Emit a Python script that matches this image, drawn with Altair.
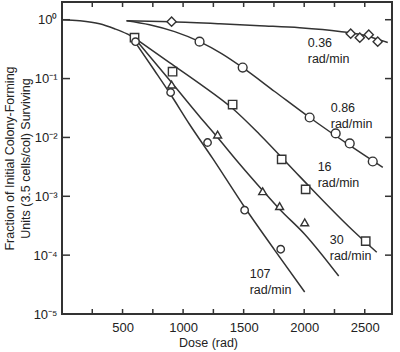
import altair as alt
import pandas as pd

# ---- measured points (dose in rad, surviving fraction) ----
d036 = [905, 2384, 2459, 2533, 2607]
s036 = [0.925, 0.579, 0.495, 0.557, 0.424]

d086 = [1136, 1492, 2045, 2260, 2376, 2566]
s086 = [0.424, 0.154, 0.0218, 0.0117, 0.0079, 0.0039]

d16 = [599, 913, 1409, 1814, 2012, 2508]
s16 = [0.495, 0.131, 0.0362, 0.00424, 0.00131, 0.000173]

d30 = [905, 1285, 1657, 1797, 2004]
s30 = [0.079, 0.0112, 0.00122, 0.00068, 0.00036]

d107 = [607, 897, 1202, 1508, 1806]
s107 = [0.424, 0.058, 0.0082, 0.00058, 0.000126]

# ---- fitted curves ----
cd_sh = [0, 145, 310, 434, 533, 607]
cs_sh = [1.0, 0.962, 0.855, 0.703, 0.579, 0.476]

cd036 = [533, 905, 1302, 1632, 1962, 2293, 2500, 2690]
cs036 = [0.962, 0.925, 0.855, 0.79, 0.73, 0.63, 0.54, 0.41]

cd086 = [533, 723, 930, 1136, 1318, 1492, 1756, 2045, 2376, 2649]
cs086 = [0.962, 0.822, 0.627, 0.424, 0.265, 0.153, 0.0603, 0.0218, 0.00731, 0.0031]

cd16 = [607, 888, 1136, 1409, 1632, 1962, 2400, 2599]
cs16 = [0.476, 0.187, 0.0822, 0.0310, 0.01125, 0.00218, 0.000265, 0.000112]

cd30 = [616, 905, 1136, 1285, 1442, 1657, 1797, 2004, 2285]
cs30 = [0.441, 0.0855, 0.0227, 0.0100, 0.00407, 0.00126, 0.000603, 0.000227, 0.0000441]

cd107 = [607, 764, 897, 1054, 1244, 1508, 1756, 2004]
cs107 = [0.407, 0.137, 0.0536, 0.0166, 0.0044, 0.000652, 0.000122, 0.0000236]

# ---- curve labels (anchored at first line) ----
lab_text = ["0.36\nrad/min", "0.86\nrad/min", "16\nrad/min", "30\nrad/min", "107\nrad/min"]
lab_dose = [2029, 2219, 2111, 2211, 1550]
lab_surv = [0.408, 0.0322, 0.0031, 0.00018, 0.0000476]

# ---- axis ticks ----
x_tick_vals = [250, 500, 750, 1000, 1250, 1500, 1750, 2000, 2250, 2500]
x_label_vals = [500, 1000, 1500, 2000, 2500]
y_tick_vals = [1, 0.1, 0.01, 0.001, 0.0001]
y_label_vals = [1, 0.1, 0.01, 0.001, 0.0001, 0.00001]

series = ["0.36", "0.86", "16", "30", "107"]
shapes = ["diamond", "circle", "square", "triangle-up", "circle"]

pts = []
for name, ds, ss in zip(series, [d036, d086, d16, d30, d107], [s036, s086, s16, s30, s107]):
    for d, s in zip(ds, ss):
        pts.append({"series": name, "dose": d, "surv": s})
pts = pd.DataFrame(pts)

curves = []
for name, ds, ss in zip(["shoulder"] + series, [cd_sh, cd036, cd086, cd16, cd30, cd107],
                        [cs_sh, cs036, cs086, cs16, cs30, cs107]):
    for i, (d, s) in enumerate(zip(ds, ss)):
        curves.append({"curve": name, "dose": d, "surv": s, "i": i})
curves = pd.DataFrame(curves)

labels = pd.DataFrame({"text": lab_text, "dose": lab_dose, "surv": lab_surv})
xt = pd.DataFrame({"dose": x_tick_vals})
yt = pd.DataFrame({"surv": y_tick_vals})

W, H = 330, 312
FONT = "Liberation Sans"
INK = "#333333"
YTITLE = ["Fraction of Initial Colony-Forming", "Units (3.5 cells/col) Surviving"]

xscale = alt.Scale(domain=[0, 2725], nice=False, zero=False)
yscale = alt.Scale(type="log", domain=[0.00001, 2], nice=False)

sup = "['\u2070','\u207b\u00b9','\u207b\u00b2','\u207b\u00b3','\u207b\u2074','\u207b\u2075']"

xaxis = alt.Axis(values=x_label_vals, format="d", tickSize=0, domain=False, grid=False,
                 labelFont=FONT, labelFontSize=13, labelColor="#222", labelPadding=7,
                 title="Dose (rad)", titleFont=FONT, titleFontSize=12.5, titleFontWeight="normal",
                 titleColor="#222", titleX=146, titleY=28, titleBaseline="middle")
yaxis = alt.Axis(values=y_label_vals, tickSize=0, domain=False, grid=False,
                 labelExpr="'10' + " + sup + "[round(-log(datum.value)/LN10)]",
                 labelFont=FONT, labelFontSize=13, labelColor="#222", labelPadding=5,
                 title=YTITLE,
                 titleFont=FONT, titleFontSize=12.5, titleFontWeight="normal", titleColor="#222",
                 titleLineHeight=16, titleX=-46, titleY=156, titleBaseline="bottom", titleAngle=-90)

X = alt.X("dose:Q", scale=xscale, axis=xaxis, title="Dose (rad)")
Y = alt.Y("surv:Q", scale=yscale, axis=yaxis, title=YTITLE)

lines = alt.Chart(curves).mark_line(color=INK, strokeWidth=1.5, interpolate="monotone").encode(
    x=X, y=Y, detail="curve:N", order="i:Q",
)

points = alt.Chart(pts).mark_point(filled=True, fill="white", stroke=INK, strokeWidth=1.4,
                                   opacity=1, strokeOpacity=1).encode(
    x=X, y=Y,
    shape=alt.Shape("series:N", scale=alt.Scale(domain=series, range=shapes), legend=None),
    size=alt.Size("series:N", scale=alt.Scale(domain=series, range=[85, 55, 60, 85, 55]), legend=None),
)

text = alt.Chart(labels).mark_text(align="left", baseline="middle", lineBreak="\n", lineHeight=16,
                                   font=FONT, fontSize=12.5, color="#222").encode(
    x=X, y=Y, text="text:N",
)

tick_bottom = alt.Chart(xt).mark_rule(color=INK, strokeWidth=1.5).encode(
    x=X, y=alt.value(H), y2=alt.value(H - 5))
tick_top = alt.Chart(xt).mark_rule(color=INK, strokeWidth=1.5).encode(
    x=X, y=alt.value(0), y2=alt.value(5))
tick_left = alt.Chart(yt).mark_rule(color=INK, strokeWidth=1.5).encode(
    y=Y, x=alt.value(0), x2=alt.value(8))
tick_right = alt.Chart(yt).mark_rule(color=INK, strokeWidth=1.5).encode(
    y=Y, x=alt.value(W), x2=alt.value(W - 7))

chart = alt.layer(lines, points, text, tick_bottom, tick_top, tick_left, tick_right).properties(
    width=W, height=H,
    autosize=alt.AutoSizeParams(type="none"),
    padding={"left": 62, "top": 2, "right": 8, "bottom": 38},
    background="white",
).configure_view(stroke=INK, strokeWidth=2)

chart.save("out.html", embed_options={"renderer": "svg", "actions": False})
